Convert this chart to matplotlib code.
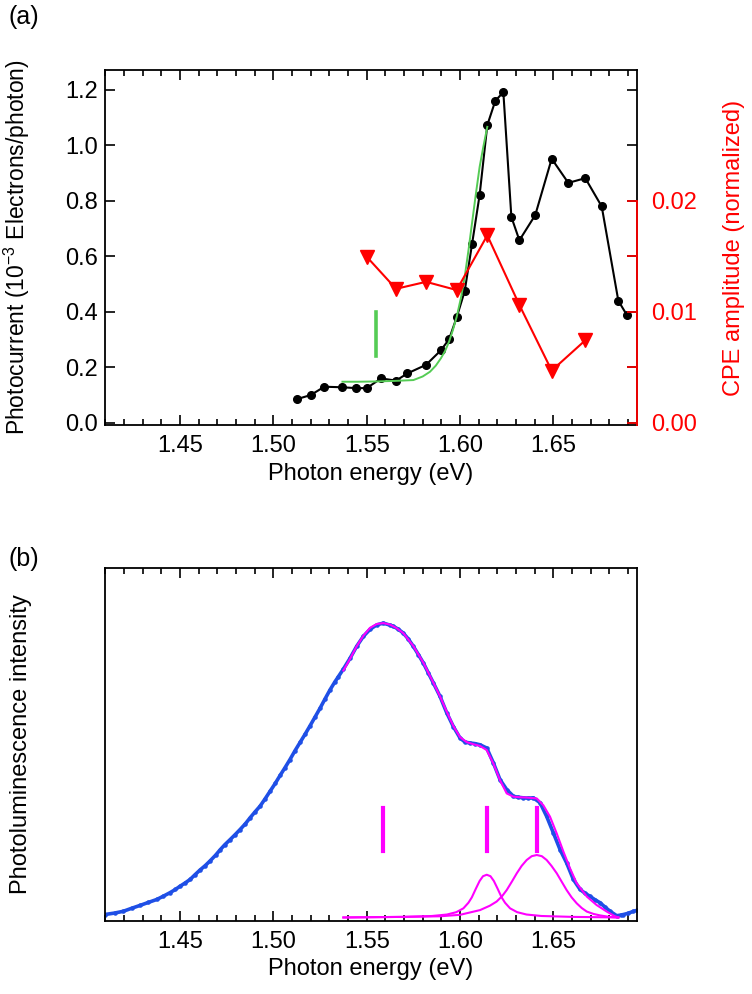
import numpy as np
import matplotlib
matplotlib.use("Agg")
from matplotlib import pyplot as plt
from matplotlib.ticker import MultipleLocator

plt.rcParams['font.family'] = ['Liberation Sans', 'DejaVu Sans']
plt.rcParams['mathtext.fontset'] = 'custom'
plt.rcParams['mathtext.rm'] = 'Liberation Sans'

# (a) photocurrent, black dots
pc_energy = [1.5125, 1.5200, 1.5273, 1.5370, 1.5443, 1.5500, 1.5577, 1.5657,
             1.5718, 1.5818, 1.5897, 1.5941, 1.5982, 1.6025, 1.6064, 1.6105,
             1.6146, 1.6189, 1.6232, 1.6275, 1.6318, 1.6403, 1.6491, 1.6580,
             1.6671, 1.6759, 1.6848, 1.6895]
pc_value = [0.084, 0.099, 0.129, 0.127, 0.124, 0.124, 0.159, 0.151,
            0.177, 0.208, 0.260, 0.300, 0.379, 0.474, 0.642, 0.821,
            1.072, 1.160, 1.191, 0.741, 0.657, 0.748, 0.951, 0.864,
            0.881, 0.779, 0.439, 0.386]

# (a) absorption edge fit, green
fit_a_energy = [1.5370, 1.5450, 1.5550, 1.5650, 1.5750, 1.5800, 1.5839, 1.5870,
                1.5897, 1.5920, 1.5941, 1.5960, 1.5982, 1.6005, 1.6025, 1.6045,
                1.6064, 1.6085, 1.6105, 1.6125, 1.6146]
fit_a_value = [0.147, 0.147, 0.148, 0.150, 0.153, 0.166, 0.183, 0.205,
               0.231, 0.258, 0.291, 0.330, 0.381, 0.450, 0.525, 0.620,
               0.718, 0.825, 0.922, 0.995, 1.066]
edge_mark_a = 1.555

# (a) CPE amplitude, red triangles
cpe_energy = [1.5500, 1.5657, 1.5818, 1.5982, 1.6146, 1.6318, 1.6491, 1.6671]
cpe_value = [0.01494, 0.01205, 0.01268, 0.01194, 0.01687, 0.01059, 0.00468, 0.00741]

# (b) photoluminescence spectrum
pl_energy = [1.4098, 1.4150, 1.4196, 1.4240, 1.4286, 1.4330, 1.4375, 1.4410,
             1.4446, 1.4475, 1.4500, 1.4527, 1.4554, 1.4580, 1.4607, 1.4635,
             1.4661, 1.4690, 1.4714, 1.4740, 1.4768, 1.4795, 1.4821, 1.4850,
             1.4875, 1.4900, 1.4929, 1.4955, 1.4982, 1.5010, 1.5036, 1.5062,
             1.5089, 1.5115, 1.5143, 1.5170, 1.5196, 1.5223, 1.5250, 1.5277,
             1.5304, 1.5330, 1.5348, 1.5375, 1.5411, 1.5446, 1.5482, 1.5518,
             1.5554, 1.5589, 1.5625, 1.5643, 1.5670, 1.5696, 1.5723, 1.5750,
             1.5777, 1.5804, 1.5830, 1.5857, 1.5893, 1.5929, 1.5964, 1.6000,
             1.6027, 1.6054, 1.6080, 1.6107, 1.6143, 1.6179, 1.6214, 1.6250,
             1.6286, 1.6312, 1.6339, 1.6366, 1.6393, 1.6429, 1.6464, 1.6500,
             1.6536, 1.6571, 1.6607, 1.6643, 1.6670, 1.6696, 1.6723, 1.6750,
             1.6777, 1.6804, 1.6839, 1.6860, 1.6875, 1.6900, 1.6929, 1.6948]
pl_value = [0.010, 0.015, 0.021, 0.031, 0.041, 0.051, 0.061, 0.072,
            0.084, 0.095, 0.106, 0.117, 0.129, 0.145, 0.161, 0.176,
            0.192, 0.211, 0.229, 0.247, 0.264, 0.281, 0.298, 0.318,
            0.338, 0.357, 0.378, 0.402, 0.428, 0.455, 0.482, 0.508,
            0.536, 0.565, 0.594, 0.622, 0.650, 0.680, 0.710, 0.742,
            0.773, 0.800, 0.817, 0.843, 0.880, 0.920, 0.954, 0.978,
            0.993, 0.999, 0.992, 0.988, 0.978, 0.965, 0.945, 0.920,
            0.892, 0.863, 0.830, 0.796, 0.750, 0.694, 0.648, 0.609,
            0.595, 0.592, 0.590, 0.586, 0.575, 0.524, 0.468, 0.434,
            0.411, 0.408, 0.406, 0.405, 0.406, 0.389, 0.343, 0.287,
            0.230, 0.185, 0.129, 0.095, 0.082, 0.072, 0.060, 0.050,
            0.035, 0.021, 0.006, 0.008, 0.010, 0.014, 0.021, 0.024]

# (b) total fit and two components, magenta
fit_b_energy = [1.5375, 1.5411, 1.5446, 1.5482, 1.5518, 1.5554, 1.5589, 1.5625,
                1.5660, 1.5696, 1.5750, 1.5804, 1.5857, 1.5893, 1.5929, 1.5964,
                1.6000, 1.6036, 1.6071, 1.6107, 1.6143, 1.6179, 1.6214, 1.6250,
                1.6286, 1.6321, 1.6357, 1.6411, 1.6446, 1.6482, 1.6518, 1.6554,
                1.6589, 1.6625, 1.6679, 1.6732, 1.6786, 1.6830, 1.6848]
fit_b_value = [0.838, 0.878, 0.920, 0.956, 0.983, 0.996, 0.999, 0.994,
               0.982, 0.965, 0.921, 0.864, 0.797, 0.750, 0.698, 0.650,
               0.612, 0.595, 0.588, 0.582, 0.568, 0.522, 0.466, 0.421,
               0.410, 0.408, 0.407, 0.404, 0.381, 0.342, 0.285, 0.223,
               0.167, 0.116, 0.071, 0.042, 0.020, 0.004, 0.000]

g1_energy = [1.5375, 1.5700, 1.5850, 1.5930, 1.5980, 1.6018, 1.6045, 1.6063,
             1.6085, 1.6105, 1.6123, 1.6143, 1.6163, 1.6181, 1.6201, 1.6223,
             1.6241, 1.6268, 1.6306, 1.6356, 1.6436, 1.6600, 1.6848]
g1_value = [0.000, 0.002, 0.005, 0.010, 0.018, 0.031, 0.050, 0.068,
            0.098, 0.124, 0.140, 0.145, 0.140, 0.124, 0.098, 0.068,
            0.050, 0.031, 0.018, 0.010, 0.005, 0.002, 0.000]

g2_energy = [1.5375, 1.5700, 1.5893, 1.6000, 1.6107, 1.6160, 1.6196, 1.6225,
             1.6250, 1.6278, 1.6304, 1.6330, 1.6357, 1.6384, 1.6411, 1.6438,
             1.6464, 1.6490, 1.6518, 1.6544, 1.6571, 1.6598, 1.6625, 1.6652,
             1.6679, 1.6715, 1.6750, 1.6800, 1.6848]
g2_value = [0.000, 0.002, 0.004, 0.009, 0.025, 0.040, 0.054, 0.072,
            0.093, 0.122, 0.150, 0.175, 0.195, 0.208, 0.212, 0.208,
            0.195, 0.175, 0.150, 0.122, 0.093, 0.068, 0.048, 0.032,
            0.020, 0.012, 0.007, 0.002, 0.000]

peak_marks_b = [1.5589, 1.6143, 1.6411]

xlim = (1.4098, 1.6948)

fig = plt.figure(figsize=(7.52, 9.94), dpi=100)
ax = fig.add_axes([105 / 752, 1 - 425 / 994, 532 / 752, 355 / 994])
ax2 = ax.twinx()
bx = fig.add_axes([105 / 752, 1 - 921 / 994, 532 / 752, 353 / 994])

fs = 17
ts = 17

# ---- panel (a)
ax.plot(pc_energy, pc_value, '-o', color='black', lw=1.5, ms=5.5, zorder=3)
ax.plot(fit_a_energy, fit_a_value, '-', color='#55cc55', lw=1.4, zorder=4)
ax.plot([edge_mark_a, edge_mark_a], [0.241, 0.398], '-', color='#55cc55', lw=2.6)
ax.set_xlim(*xlim)
ax.set_ylim(-0.009, 1.271)
ax.set_xticks([1.45, 1.50, 1.55, 1.60, 1.65])
ax.set_xticklabels(['1.45', '1.50', '1.55', '1.60', '1.65'])
ax.xaxis.set_minor_locator(MultipleLocator(0.01))
ax.set_yticks([0.0, 0.2, 0.4, 0.6, 0.8, 1.0, 1.2])
ax.set_yticklabels(['0.0', '0.2', '0.4', '0.6', '0.8', '1.0', '1.2'])
ax.tick_params(which='both', direction='in', top=True, right=True, labelsize=ts, width=1.2)
ax.tick_params(which='major', length=7)
ax.tick_params(which='minor', length=4)
ax.tick_params(axis='x', pad=7)
ax.tick_params(axis='y', pad=5)
ax.set_xlabel('Photon energy (eV)', fontsize=fs)
ax.xaxis.set_label_coords(0.5, -0.108)
ax.set_ylabel('Photocurrent (10$^{-3}$ Electrons/photon)', fontsize=16.5)
ax.yaxis.set_label_coords(-0.137, 0.5)
for s in ax.spines.values():
    s.set_linewidth(1.3)

ax2.plot(cpe_energy, cpe_value, '-v', color='red', lw=1.5, ms=10, zorder=5)
ax2.set_ylim(-0.009 / 40, 1.271 / 40)
ax2.set_yticks([0.0, 0.005, 0.01, 0.015, 0.02])
ax2.set_yticklabels(['0.00', '', '0.01', '', '0.02'])
ax2.tick_params(axis='y', direction='in', length=7, width=1.2, colors='red',
                labelsize=ts, pad=10)
for k in ['top', 'bottom', 'left']:
    ax2.spines[k].set_visible(False)
ax2.spines['right'].set_color('red')
ax2.spines['right'].set_linewidth(1.3)
ax2.spines['right'].set_bounds(-0.009 / 40, 0.02)
ax2.set_ylabel('CPE amplitude (normalized)', fontsize=fs, color='red')
ax2.yaxis.set_label_coords(1.162, 0.5)

# ---- panel (b)
bx.plot(pl_energy, pl_value, '.-', color='#1f4fe6', lw=2.6, ms=4.5, zorder=2)
bx.plot(fit_b_energy, fit_b_value, '-', color='magenta', lw=1.5, zorder=3)
bx.plot(g1_energy, g1_value, '-', color='magenta', lw=1.5, zorder=3)
bx.plot(g2_energy, g2_value, '-', color='magenta', lw=1.5, zorder=3)
for e in peak_marks_b:
    bx.plot([e, e], [0.225, 0.372], '-', color='magenta', lw=3)
bx.set_xlim(*xlim)
bx.set_ylim(-0.012, 1.186)
bx.set_xticks([1.45, 1.50, 1.55, 1.60, 1.65])
bx.set_xticklabels(['1.45', '1.50', '1.55', '1.60', '1.65'])
bx.xaxis.set_minor_locator(MultipleLocator(0.01))
bx.set_yticks([])
bx.tick_params(which='both', direction='in', top=True, labelsize=ts, width=1.2, pad=7)
bx.tick_params(which='major', length=7)
bx.tick_params(which='minor', length=4)
bx.set_xlabel('Photon energy (eV)', fontsize=fs)
bx.xaxis.set_label_coords(0.5, -0.104)
bx.set_ylabel('Photoluminescence intensity', fontsize=fs)
bx.yaxis.set_label_coords(-0.137, 0.5)
for s in bx.spines.values():
    s.set_linewidth(1.3)

fig.text(8 / 752, 1 - 17 / 994, '(a)', fontsize=18, va='center', ha='left')
fig.text(8 / 752, 1 - 559 / 994, '(b)', fontsize=18, va='center', ha='left')

fig.savefig('out.png', dpi=100)
